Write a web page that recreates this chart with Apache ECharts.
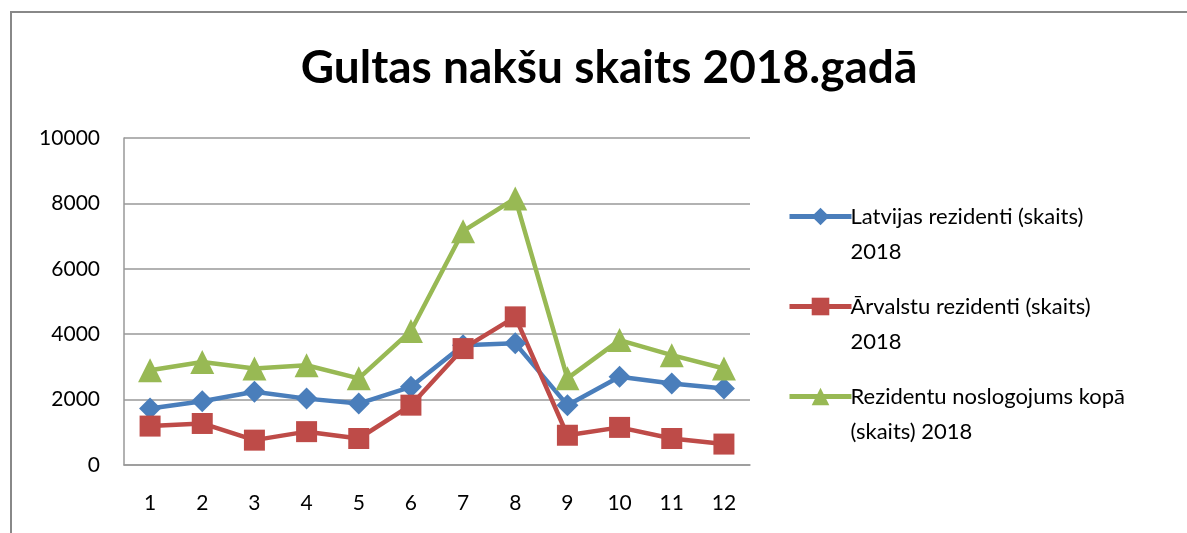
<!DOCTYPE html>
<html>
<head>
<meta charset="utf-8">
<script src="https://cdn.jsdelivr.net/npm/echarts@6/dist/echarts.min.js"></script>
<style>
  html, body { margin: 0; padding: 0; background: #fff; }
  #chart { width: 1187px; height: 533px; }
</style>
</head>
<body>
<div id="chart"></div>
<script>
// data
var months = ['1', '2', '3', '4', '5', '6', '7', '8', '9', '10', '11', '12'];
var latvijas = [1730, 1950, 2240, 2030, 1880, 2390, 3660, 3720, 1830, 2700, 2490, 2340];
var arvalstu = [1190, 1270, 760, 1020, 810, 1830, 3560, 4530, 910, 1150, 810, 640];
var kopa = [2900, 3150, 2950, 3050, 2650, 4100, 7150, 8150, 2650, 3820, 3360, 2950];
var names = [
    'Latvijas rezidenti (skaits) 2018',
    'Ārvalstu rezidenti (skaits) 2018',
    'Rezidentu noslogojums kopā (skaits) 2018'
];
// blank first line so the icon sits next to the first text line
var legendText = {};
legendText[names[0]] = ' \nLatvijas rezidenti (skaits)\n2018';
legendText[names[1]] = ' \nĀrvalstu rezidenti (skaits)\n2018';
legendText[names[2]] = ' \nRezidentu noslogojums kopā\n(skaits) 2018';

var font = 'Lato, "Open Sans", sans-serif';

var chart = echarts.init(document.getElementById('chart'));

function lineSeries(name, data, color, symbol, size) {
    return {
        name: name,
        type: 'line',
        data: data,
        symbol: symbol,
        symbolSize: size,
        lineStyle: { color: color, width: 4.5 },
        itemStyle: { color: color },
        animation: false
    };
}

chart.setOption({
    backgroundColor: '#fff',
    title: {
        text: 'Gultas nakšu skaits 2018.gadā',
        left: 604,
        textAlign: 'center',
        top: 40,
        textStyle: { fontFamily: font, fontSize: 46, fontWeight: 'bold', color: '#000' }
    },
    graphic: [
        { type: 'line', shape: { x1: 11, y1: 12, x2: 11, y2: 540 }, style: { stroke: '#888', lineWidth: 2 } },
        { type: 'line', shape: { x1: 10, y1: 12, x2: 1190, y2: 12 }, style: { stroke: '#888', lineWidth: 2 } }
    ],
    grid: { left: 124, right: 437, top: 138, bottom: 68 },
    legend: {
        orient: 'vertical',
        left: 782,
        top: 159,
        itemGap: -15,
        itemWidth: 62,
        itemHeight: 22,
        data: names,
        lineStyle: { width: 5 },
        formatter: function (n) { return legendText[n]; },
        textStyle: { fontFamily: font, fontSize: 22, color: '#000', lineHeight: 35, padding: [0, 0, 0, -6] }
    },
    xAxis: {
        type: 'category',
        data: months,
        axisLine: { lineStyle: { color: '#999', width: 1.5 } },
        axisTick: { show: false },
        axisLabel: { fontFamily: font, fontSize: 21, color: '#000', margin: 28 }
    },
    yAxis: {
        type: 'value',
        min: 0,
        max: 10000,
        interval: 2000,
        axisLine: { show: true, lineStyle: { color: '#999', width: 1.5 } },
        axisTick: { show: false },
        splitLine: { lineStyle: { color: '#999', width: 1.5 } },
        axisLabel: {
            fontFamily: font, fontSize: 21, color: '#000', margin: 24,
            formatter: function (v) { return String(v); }
        }
    },
    series: [
        lineSeries(names[0], latvijas, '#4a7ebb', 'diamond', 22),
        lineSeries(names[1], arvalstu, '#be4b48', 'rect', 21),
        lineSeries(names[2], kopa, '#98b954', 'triangle', 24)
    ]
});
</script>
</body>
</html>
